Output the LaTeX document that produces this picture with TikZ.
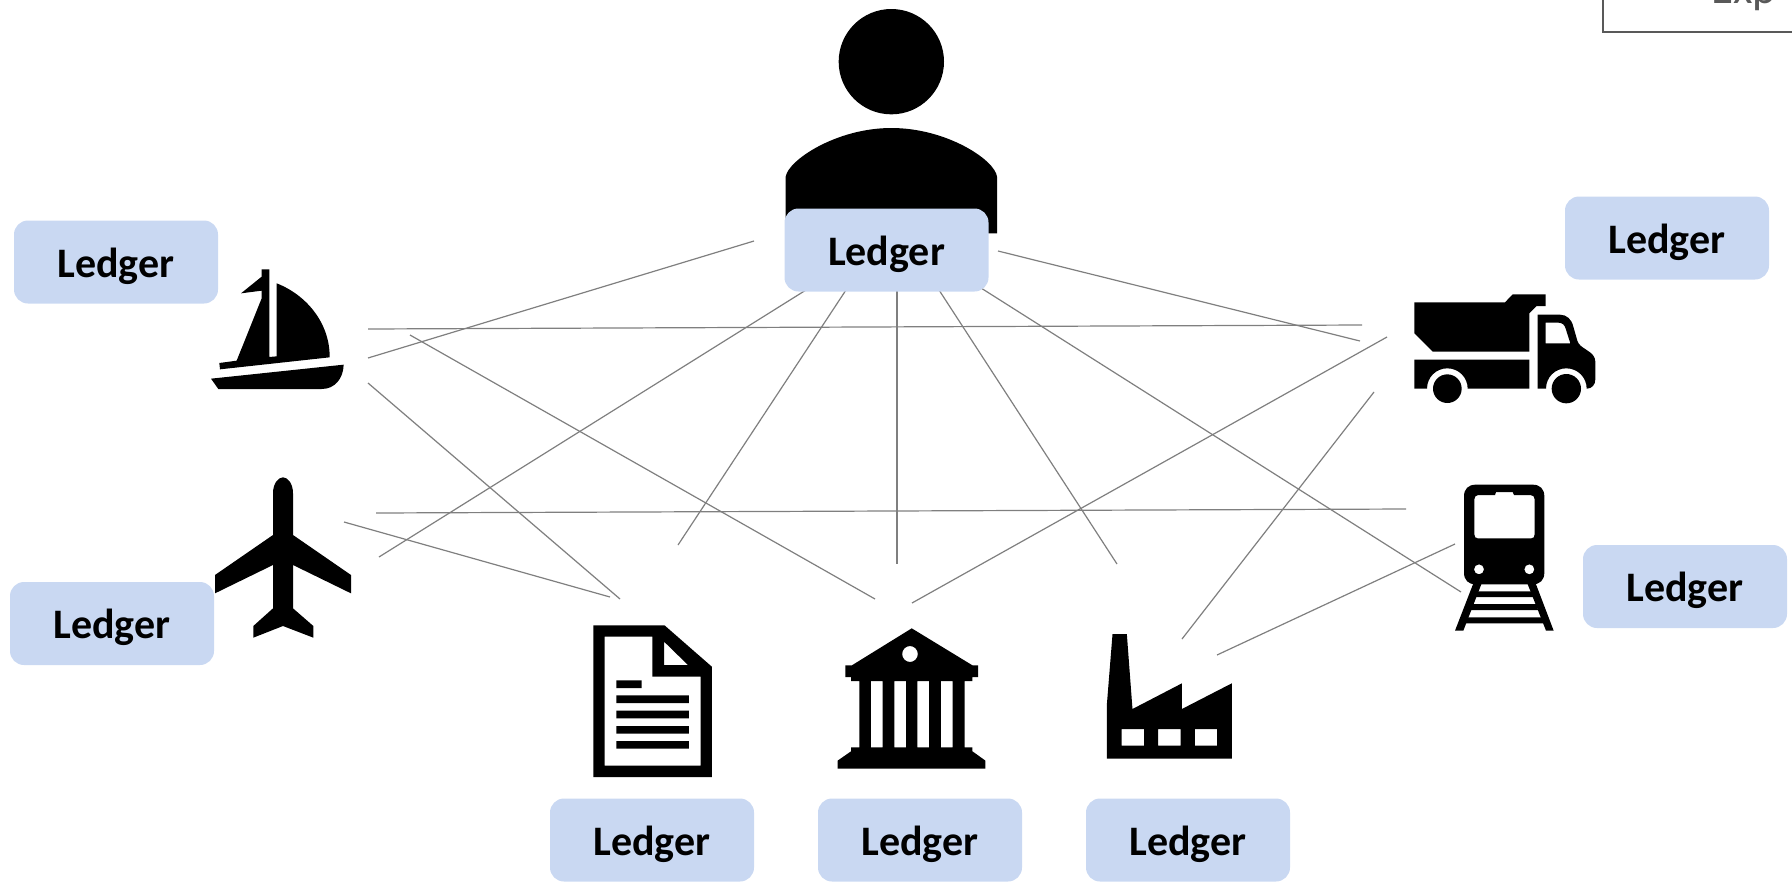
\documentclass[tikz,border=0pt]{standalone}
\usepackage{fontspec}
\setmainfont{Carlito}
\definecolor{ledgerfill}{HTML}{C9D8F2}
\definecolor{linkgray}{HTML}{7F7F7F}
\definecolor{framegray}{HTML}{595959}
\tikzset{
  ledgerbox/.style={fill=ledgerfill,rounded corners=14pt,minimum width=204pt,minimum height=83pt,inner sep=0pt,font=\fontsize{42}{50}\selectfont\bfseries,text=black,align=center},
  link/.style={draw=linkgray,line width=1.2pt},
  icon/.style={fill=black,draw=none},
  iconeo/.style={fill=black,draw=none,even odd rule},
  zoomed/.style={x=0.33333pt,y=-0.33333pt},
  zoomedb/.style={x=0.43367pt,y=-0.33333pt}
}
\begin{document}
\begin{tikzpicture}[x=1pt,y=-1pt]
\useasboundingbox (0,0) rectangle (1792,884);
\clip (0,0) rectangle (1792,884);
% top right clipped box
\draw[framegray,line width=2pt] (1603,-10) -- (1603,31.5) -- (1800,31.5);
\node[anchor=base west,inner sep=0pt,text=framegray,font=\fontsize{45}{52}\selectfont] (exp) at (1711,3) {Exp};
% person
\begin{scope}[shift={(760,0)},zoomed]
\fill[icon] (394,185) circle [radius=158];
\fill[icon] (77,700) -- (77,530) .. controls (85,480) and (230,384) .. (394,384) .. controls (560,384) and (705,480) .. (711,530) -- (711,700) -- cycle;
\end{scope}
% boat
\begin{scope}[shift={(180,240)},zoomed]
\fill[icon] (93,416) -- (491,374) .. controls (490,415) and (465,447) .. (425,447) -- (115,447) -- cycle;
\fill[icon] (118,369) -- (170,362) -- (245,175) -- (245,152) -- (183,160) -- (245,110) -- (245,88) -- (268,88) -- (268,351) -- (290,349) -- (290,130) .. controls (380,165) and (450,250) .. (449,352) -- (120,388) -- cycle;
\fill[icon] (279,760) .. controls (279,730) and (295,712) .. (309,712) .. controls (323,712) and (339,730) .. (339,760) -- (339,885) -- (513,1005) -- (513,1060) -- (339,975) -- (339,1105) -- (400,1158) -- (400,1193) -- (309,1158) -- (220,1193) -- (220,1158) -- (279,1105) -- (279,975) -- (105,1060) -- (105,1005) -- (279,885) -- cycle;
\end{scope}
% document, bank, factory
\begin{scope}[shift={(570,611)},zoomedb]
\fill[iconeo] (54,43) -- (218,43) -- (327,167) -- (327,498) -- (54,498) -- cycle
  (80,77) -- (190,77) -- (190,197) -- (301,197) -- (301,464) -- (80,464) -- cycle
  (217,92) -- (272,162) -- (217,162) -- cycle;
\fill[icon] (107,208) rectangle (165,231) (107,253) rectangle (274,276) (107,299) rectangle (274,322) (107,345) rectangle (274,368) (107,390) rectangle (274,413);
\fill[iconeo] (788,52) -- (928,163) -- (941,163) -- (941,198) -- (928,198) -- (928,210) -- (910,210) -- (910,409) -- (928,409) -- (928,421) -- (958,449) -- (958,473) -- (617,473) -- (617,449) -- (648,421) -- (648,409) -- (667,409) -- (667,210) -- (648,210) -- (648,198) -- (635,198) -- (635,163) -- (650,163) -- cycle
  (784,129) ellipse [x radius=18,y radius=24]
  (694,210) rectangle (721,409) (748,210) rectangle (775,409) (801,210) rectangle (828,409) (855,210) rectangle (882,409);
\fill[iconeo] (1251,69) -- (1284,69) -- (1297,294) -- (1411,217) -- (1411,294) -- (1526,217) -- (1526,443) -- (1238,443) -- (1238,280) -- cycle
  (1272,354) rectangle (1324,404) (1356,354) rectangle (1408,404) (1441,354) rectangle (1492,404);
\end{scope}
% truck, train
\begin{scope}[shift={(1390,280)},zoomed]
\fill[icon] (73,67) -- (345,67) -- (368,43) -- (467,43) -- (467,78) -- (440,78) -- (418,100) -- (418,215) -- (128,215) -- (73,160) -- cycle;
\fill[icon] (73,239) -- (418,239) -- (418,326) -- (233,326) .. controls (233,292) and (206,265) .. (172,265) .. controls (138,265) and (111,292) .. (111,326) -- (73,326) -- cycle;
\fill[iconeo] (443,104) -- (510,104) .. controls (530,104) and (545,118) .. (550,140) -- (562,182) .. controls (566,195) and (575,200) .. (590,210) .. controls (606,220) and (616,230) .. (616,245) -- (616,298) .. controls (616,315) and (605,326) .. (590,326) .. controls (590,292) and (563,265) .. (529,265) .. controls (495,265) and (468,292) .. (468,326) -- (443,326) -- cycle
  (467,128) -- (505,128) .. controls (517,128) and (524,135) .. (527,146) -- (541,190) -- (467,190) -- cycle;
\fill[icon] (172,326) circle [radius=43] (529,326) circle [radius=44];
\fill[iconeo] (257,614) -- (428,614) .. controls (450,614) and (463,627) .. (463,649) -- (463,878) .. controls (463,900) and (450,913) .. (428,913) -- (257,913) .. controls (235,913) and (222,900) .. (222,878) -- (222,649) .. controls (222,627) and (235,614) .. (257,614) -- cycle
  (265,645) -- (315,645) -- (318,636) -- (368,636) -- (372,645) -- (421,645) .. controls (429,645) and (434,650) .. (434,658) -- (434,763) .. controls (434,771) and (430,775) .. (424,775) -- (263,775) .. controls (257,775) and (253,771) .. (253,763) -- (253,658) .. controls (253,650) and (258,645) .. (265,645) -- cycle
  (267,868) circle [radius=15] (418,868) circle [radius=15];
\fill[icon] (252,905) -- (277,905) -- (220,1052) -- (195,1052) -- cycle;
\fill[icon] (410,905) -- (435,905) -- (491,1052) -- (468,1052) -- cycle;
\fill[icon] (262,934) -- (425,934) -- (430,951) -- (255,951) -- cycle;
\fill[icon] (248,972) -- (438,972) -- (444,990) -- (242,990) -- cycle;
\fill[icon] (232,1012) -- (455,1012) -- (460,1030) -- (226,1030) -- cycle;
\end{scope}
% link end points
\coordinate (a1) at (754,241);   \coordinate (b1) at (368,358);
\coordinate (a2) at (368,329);   \coordinate (b2) at (1362,325);
\coordinate (a3) at (410,335);   \coordinate (b3) at (875,599);
\coordinate (a4) at (368,383);   \coordinate (b4) at (620,599);
\coordinate (a5) at (806,290);   \coordinate (b5) at (379,557);
\coordinate (a6) at (846,290);   \coordinate (b6) at (678,545);
\coordinate (a7) at (897,290);   \coordinate (b7) at (897,564);
\coordinate (a8) at (939,290);   \coordinate (b8) at (1117,564);
\coordinate (a9) at (981,288);   \coordinate (b9) at (1461,592);
\coordinate (a10) at (998,251);  \coordinate (b10) at (1360,341);
\coordinate (a11) at (1387,337); \coordinate (b11) at (912,603);
\coordinate (a12) at (1374,392); \coordinate (b12) at (1182,639);
\coordinate (a13) at (1455,544); \coordinate (b13) at (1217,655);
\coordinate (a14) at (376,513);  \coordinate (b14) at (1406,509);
\coordinate (a15) at (344,522);  \coordinate (b15) at (610,597);
\foreach \i in {1,...,15} {\draw[link] (a\i) -- (b\i);}
% ledgers
\newcommand{\ledgertext}{\raisebox{-15pt}[0pt][0pt]{Ledger}}
\node[ledgerbox] (L1) at (116,262) {\ledgertext};
\node[ledgerbox] (L2) at (886.5,250) {\ledgertext};
\node[ledgerbox] (L3) at (1667,238) {\ledgertext};
\node[ledgerbox] (L4) at (112,623.5) {\ledgertext};
\node[ledgerbox] (L5) at (1685,586.5) {\ledgertext};
\node[ledgerbox] (L6) at (652,840) {\ledgertext};
\node[ledgerbox] (L7) at (920,840) {\ledgertext};
\node[ledgerbox] (L8) at (1188,840) {\ledgertext};
\end{tikzpicture}
\end{document}
